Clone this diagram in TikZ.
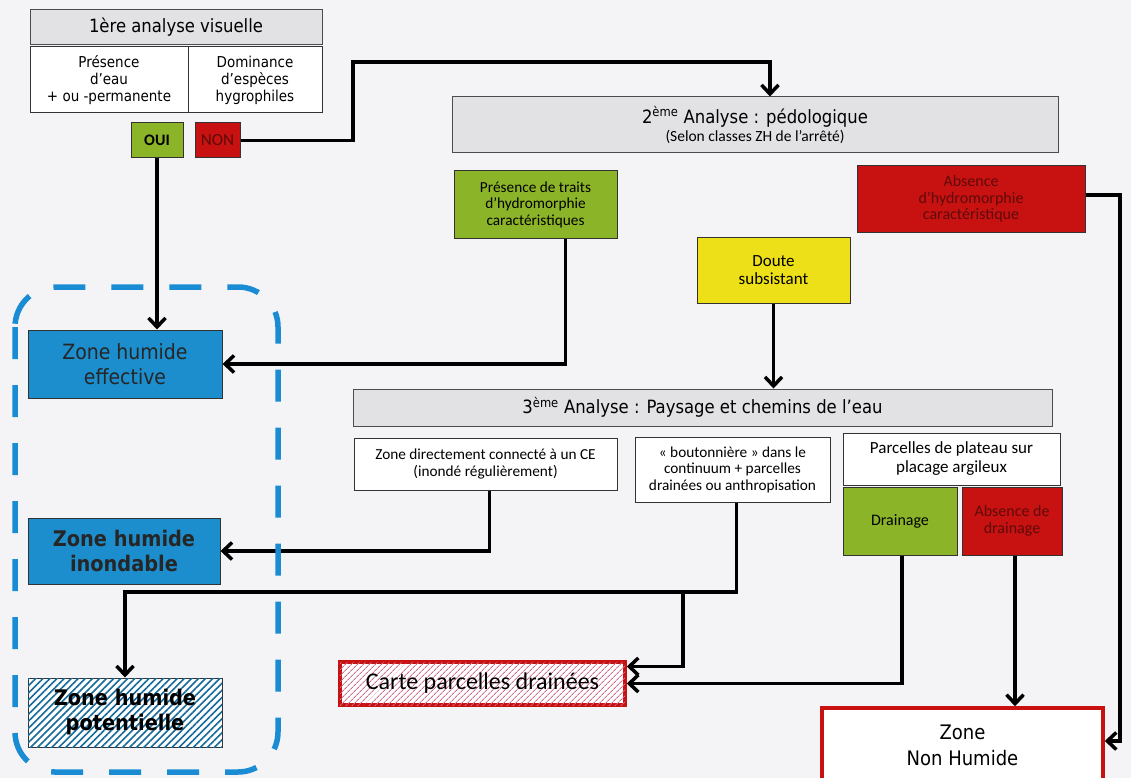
\documentclass[tikz,border=0pt]{standalone}
\usepackage{fontspec}
\setmainfont{DejaVu Sans Condensed}
\newfontfamily\calib{Carlito}
\usetikzlibrary{arrows.meta,patterns.meta,calc}

\definecolor{vert}{RGB}{140,180,40}
\definecolor{rouge}{RGB}{200,18,18}
\definecolor{jaune}{RGB}{238,224,24}
\definecolor{bleu}{RGB}{28,142,205}
\definecolor{bleutrait}{RGB}{26,140,212}
\definecolor{gristitre}{RGB}{226,226,228}
\definecolor{fond}{RGB}{244,244,247}
\definecolor{texterouge}{RGB}{95,10,10}
\definecolor{rose}{RGB}{205,110,140}

\begin{document}
\begin{tikzpicture}[x=1pt,y=-1pt,
  sz/.style 2 args={minimum width=#1pt, minimum height=#2pt},
  box/.style={draw=black!80, line width=1pt, align=center, inner sep=1pt, fill=white},
  titre/.style={box, fill=gristitre, draw=black!70},
  vbox/.style={box, fill=vert},
  rbox/.style={box, fill=rouge, text=texterouge},
  zbox/.style={box, fill=bleu, text=black!85},
  grand/.style={font=\fontsize{18.3}{21}\selectfont},
  moyen/.style={font=\fontsize{15}{17}\selectfont},
  cal/.style={font=\calib\fontsize{15.3}{16.5}\selectfont},
  link/.style={line width=3.5pt, -{Straight Barb[length=9pt,width=17pt]}},
  zone/.style={draw=bleutrait, line width=5.5pt, rounded corners=40pt,
    dash pattern=on 32pt off 26pt}]

  \useasboundingbox[fill=fond] (0,0) rectangle (1131,778);

  % 1ere analyse
  \node[titre, grand, sz={292}{35}] (visu) at (176,27.5) {1ère analyse visuelle};
  \node[box, moyen, sz={158}{66}] (eau) at (109,80) {Présence\\d’eau\\+ ou -permanente};
  \node[box, moyen, sz={134}{66}] (dom) at (255,80) {Dominance\\d’espèces\\hygrophiles};
  \node[vbox, font=\calib\bfseries\fontsize{16}{18}\selectfont, sz={52}{35}] (oui) at (157,140.5) {OUI};
  \node[rbox, font=\calib\fontsize{17}{18}\selectfont, sz={45}{35}] (non) at (217.5,140.5) {NON};

  % 2eme analyse
  \node[titre, grand, sz={606}{56}] (ped) at (755,125)
    {2\textsuperscript{ème} Analyse : pédologique\\[-3pt]{\calib\fontsize{15.5}{16}\selectfont (Selon classes ZH de l’arrêté)}};
  \node[vbox, cal, sz={163}{67}] (traits) at (535.5,204.5) {Présence de traits\\d’hydromorphie\\caractéristiques};
  \node[box, fill=jaune, font=\calib\fontsize{17}{18.5}\selectfont, sz={153}{66}] (doute) at (773.5,270) {Doute\\subsistant};
  \node[rbox, font=\calib\fontsize{16}{16.5}\selectfont, sz={228}{66}] (absh) at (971,199) {Absence\\d’hydromorphie\\caractéristique};

  % 3eme analyse
  \node[titre, grand, sz={699}{37}] (pays) at (702.5,407.5)
    {3\textsuperscript{ème} Analyse : Paysage et chemins de l’eau};
  \node[box, cal, sz={263}{52}] (conn) at (485.5,464) {Zone directement connecté à un CE\\(inondé régulièrement)};
  \node[box, cal, sz={195}{65}] (bout) at (732.5,469.5) {« boutonnière » dans le\\continuum + parcelles\\drainées ou anthropisation};
  \node[box, font=\calib\fontsize{17}{19}\selectfont, sz={217}{52}] (plat) at (951.5,459) {Parcelles de plateau sur\\placage argileux};
  \node[vbox, font=\calib\fontsize{16}{18}\selectfont, sz={114}{68}] (drain) at (900,521) {Drainage};
  \node[rbox, font=\calib\fontsize{16}{17}\selectfont, sz={100}{68}] (absd) at (1012,521) {Absence de\\drainage};

  % zones humides
  \node[zbox, font=\fontsize{21}{25}\selectfont, sz={194}{68}] (zhe) at (125,364) {Zone humide\\effective};
  \node[zbox, font=\bfseries\fontsize{21.5}{25}\selectfont, sz={192}{66}] (zhi) at (124,551) {Zone humide\\inondable};
  \node[box, sz={194}{69},
    postaction={pattern={Lines[angle=45,distance=5pt,line width=1.6pt]}, pattern color=bleu!75!black}]
    (zhp) at (125,712.5) {};
  \node[font=\bfseries\fontsize{21.5}{25}\selectfont, align=center] at (zhp) {Zone humide\\potentielle};

  % sorties
  \node[box, draw=rouge, line width=3.5pt, sz={285}{43},
    postaction={pattern={Lines[angle=45,distance=4pt,line width=1pt]}, pattern color=rose}]
    (carte) at (482.5,683.5) {};
  \node[font=\calib\fontsize{24}{26}\selectfont] at (carte) {Carte parcelles drainées};
  \node[box, draw=rouge, line width=3.5pt, font=\fontsize{20}{26}\selectfont, sz={281}{74}] (znh) at (962.5,745)
    {Zone\\Non Humide};

  % liaisons
  \draw[link] (non.east) -| (353,62) -| ([xshift=15pt]ped.north);
  \draw[link] (oui.south) -- (oui.south |- zhe.north);
  \draw[link] ([xshift=30pt]traits.south) |- (zhe.east);
  \draw[link] (doute.south) -- (doute.south |- pays.north);
  \draw[link] ([yshift=4pt]absh.east) -| (1120,400) |- ([yshift=4pt]znh.east);
  \draw[link] ([xshift=4pt]conn.south) |- (zhi.east);
  \draw[link] ([xshift=4pt]bout.south) |- (125,592) -- (zhp.north);
  \coordinate (branche) at (683,592);
  \draw[link] (branche) |- ([yshift=17pt]carte.east);
  \draw[link] ([xshift=2pt]drain.south) |- (carte.east);
  \draw[link] ([xshift=3pt]absd.south) -- ([xshift=3pt]absd.south |- znh.north);

  % zone humide (pointillés)
  \draw[zone] (15,287) rectangle (278,772);
\end{tikzpicture}
\end{document}
